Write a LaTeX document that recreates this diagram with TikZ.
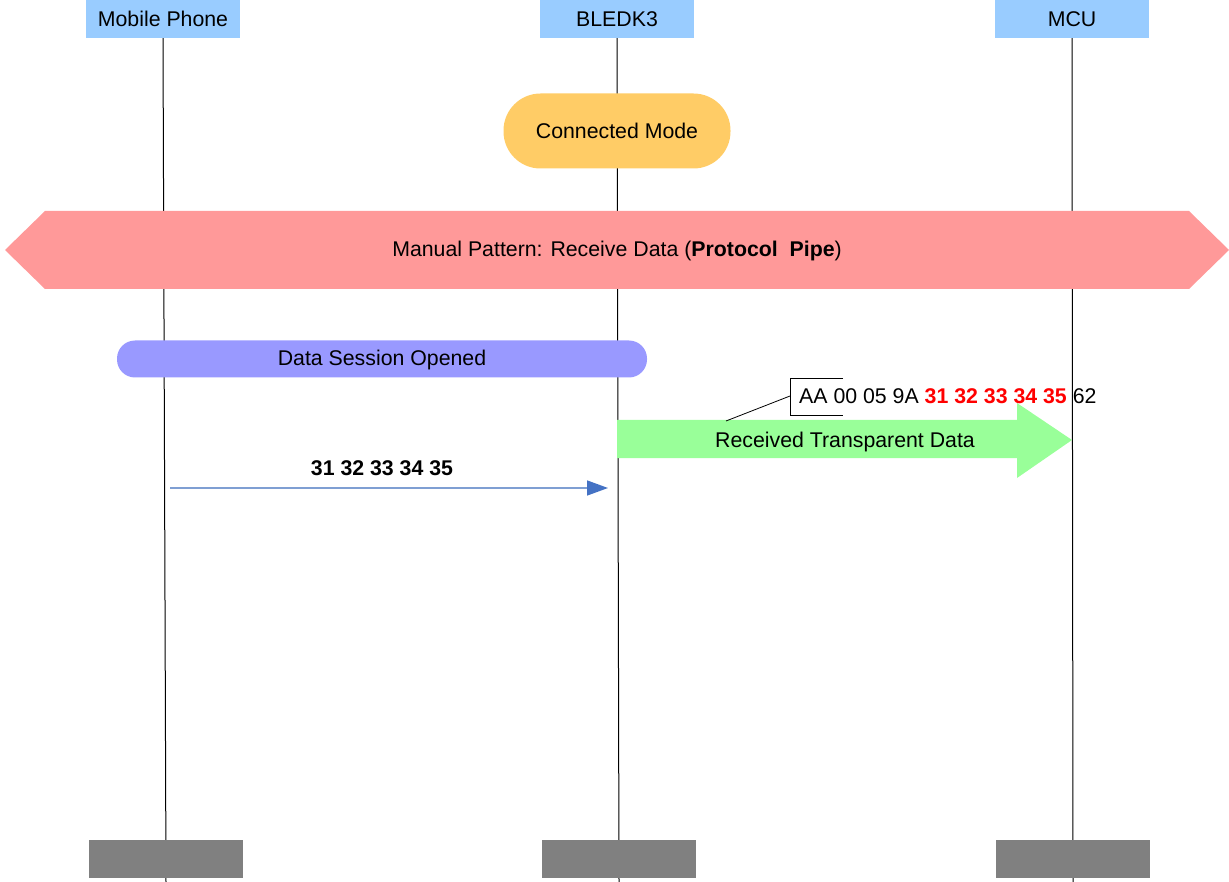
\documentclass[tikz,border=0pt]{standalone}
\usepackage{fontspec}
\setmainfont{Liberation Sans}
\usepackage{tikz}
\usetikzlibrary{positioning,arrows.meta,calc}

\definecolor{headblue}{HTML}{99CCFF}
\definecolor{footgray}{HTML}{808080}
\definecolor{modeorange}{HTML}{FFCC66}
\definecolor{patternred}{HTML}{FF9999}
\definecolor{sessionblue}{HTML}{9999FF}
\definecolor{datagreen}{HTML}{99FF99}
\definecolor{msgline}{HTML}{7F9FD3}
\definecolor{msghead}{HTML}{4472C4}
\definecolor{bytered}{HTML}{FF0000}

\begin{document}
\begin{tikzpicture}[x=1pt,y=-1pt,
    every node/.style={font=\fontsize{21.3}{25}\selectfont},
    lifehead/.style={fill=headblue,minimum width=154pt,minimum height=38pt,inner sep=0pt},
    lifefoot/.style={fill=footgray,minimum width=154pt,minimum height=38pt,inner sep=0pt},
    lifeline/.style={draw=black,line width=1pt}]
  \useasboundingbox (0,0) rectangle (1229,882);
  % lifelines
  \foreach \n/\lbl/\xt/\xb in {mp/Mobile Phone/163/166,ble/BLEDK3/617/619,mcu/MCU/1072/1073} {
    \node[lifehead] (\n-head) at (\xt,19) {\lbl};
    \coordinate (\n-end) at (\xb,882);
    \draw[lifeline] (\n-head.south) -- (\n-end);
    \node[lifefoot] (\n-foot) at (\xb,859) {};
  }
  \node[fill=modeorange,rounded corners=37pt,minimum width=227pt,minimum height=75pt] (mode) at (617,131) {Connected Mode};
  % pattern band
  \fill[patternred] (5,250) -- (45,211) -- (1189,211) -- (1229,250) -- (1189,289) -- (45,289) -- cycle;
  \node (pattern) at (617,251) {Manual Pattern: Receive Data (\textbf{Protocol\ \ Pipe})};
  \node[fill=sessionblue,rounded corners=18pt,minimum width=530pt,minimum height=37pt,text depth=2pt] (session) at (382,359) {Data Session Opened};
  % transparent data to MCU
  \fill[datagreen] (617,420) -- (1017,420) -- (1017,403) -- (1072,440) -- (1017,478) -- (1017,458) -- (617,458) -- cycle;
  \node (rxlabel) at (845,442) {Received Transparent Data};
  \node[anchor=west,inner sep=0pt] (frame) at (799,396) {AA 00 05 9A \textcolor{bytered}{\textbf{31 32 33 34 35}} 62};
  \draw[line width=0.8pt] (843,378) -| (790,415) -- (843,415);
  \coordinate (frame-pin) at (790,396);
  \coordinate (frame-tail) at (726,421);
  \draw[line width=0.8pt] (frame-pin) -- (frame-tail);
  % message
  \coordinate (msg-start) at (170,488);
  \coordinate (msg-end) at (608,488);
  \draw[msgline,line width=1.5pt,-{Triangle[length=21pt,width=15pt,fill=msghead,color=msghead]}] (msg-start) -- (msg-end);
  \node[font=\fontsize{21.3}{25}\selectfont\bfseries] (msglabel) at (382,468) {31 32 33 34 35};
\end{tikzpicture}
\end{document}
